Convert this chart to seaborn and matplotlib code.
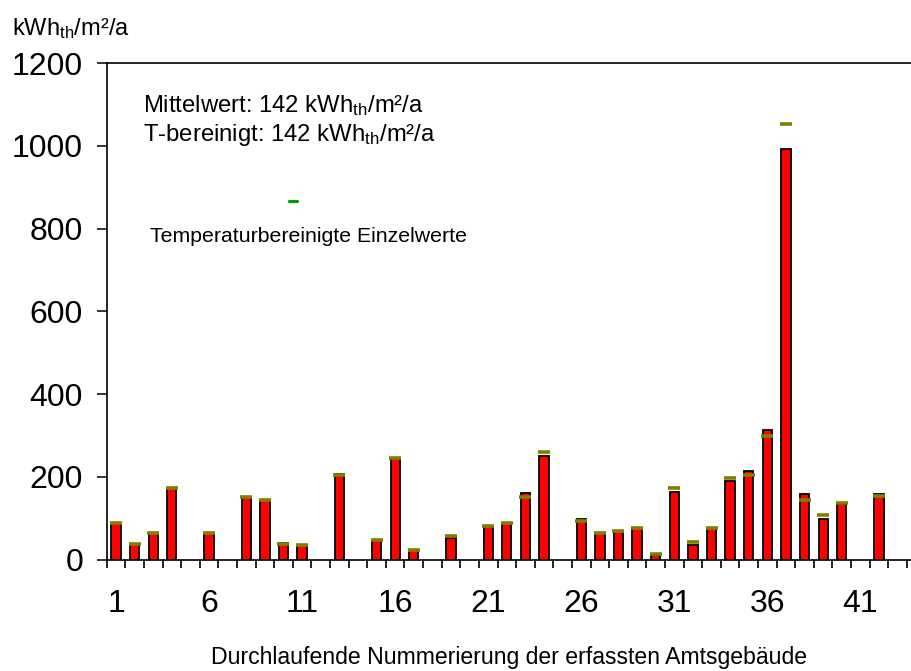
import matplotlib
matplotlib.use("Agg")
import matplotlib.pyplot as plt
import seaborn as sns
import pandas as pd
from matplotlib.lines import Line2D
from matplotlib.ticker import FixedLocator, NullFormatter

# ---------------- data ----------------
buildings = [1, 2, 3, 4, 6, 8, 9, 10, 11, 13, 15, 16, 17, 19, 21, 22, 23, 24,
             26, 27, 28, 29, 30, 31, 32, 33, 34, 35, 36, 37, 38, 39, 40, 42]
consumption = [88, 38, 64, 173, 64, 152, 143, 39, 36, 206, 46, 245, 23, 52, 82, 89, 160, 251,
               98, 65, 68, 76, 12, 164, 36, 75, 189, 215, 312, 993, 159, 98, 135, 159]
temp_adjusted = [88, 38, 64, 173, 64, 152, 143, 37, 34, 205, 46, 245, 24, 56, 81, 89, 150, 259,
                 93, 64, 68, 76, 14, 172, 42, 75, 198, 205, 299, 1052, 143, 107, 136, 154]
xtick_values = [1, 6, 11, 16, 21, 26, 31, 36, 41]
ytick_values = [0, 200, 400, 600, 800, 1000, 1200]
n_positions = 43

df = pd.DataFrame({"Gebäude": buildings, "Verbrauch": consumption, "Tbereinigt": temp_adjusted})

# ---------------- style ----------------
sns.set_theme(style="white")
plt.rcParams["font.family"] = ["Liberation Sans", "DejaVu Sans"]
plt.rcParams["mathtext.fontset"] = "custom"
plt.rcParams["mathtext.rm"] = "Liberation Sans"
plt.rcParams["mathtext.it"] = "Liberation Sans:italic"
plt.rcParams["text.color"] = "black"
plt.rcParams["axes.labelcolor"] = "black"
plt.rcParams["xtick.color"] = "black"
plt.rcParams["ytick.color"] = "black"

W, H = 912, 671
fig = plt.figure(figsize=(W / 100, H / 100), dpi=100)

def fx(x):
    return x / W

def fy(y):
    return 1 - y / H

ax_left, ax_right, ax_top, ax_bottom = 106.7, 912, 63.3, 559.5
ax = fig.add_axes([fx(ax_left), fy(ax_bottom), fx(ax_right - ax_left), (ax_bottom - ax_top) / H])

sns.barplot(data=df, x="Gebäude", y="Verbrauch", native_scale=True, width=0.5,
            color="#ff0000", edgecolor="black", linewidth=1.3, errorbar=None,
            saturation=1, ax=ax)
sns.scatterplot(data=df, x="Gebäude", y="Tbereinigt", marker="_", s=70,
                color="#808000", linewidth=2.6, zorder=3, ax=ax, legend=False)

ax.set_xlim(0.5, 0.5 + (ax_right - ax_left) / 18.61)
ax.set_ylim(0, 1200)

# ticks
ax.set_yticks(ytick_values)
ax.set_yticklabels([str(v) for v in ytick_values], fontsize=23)
ax.tick_params(axis="y", which="major", direction="out", length=7, width=1.1,
               color="black", labelcolor="black", pad=10, left=True)

ax.xaxis.set_major_locator(FixedLocator(xtick_values))
ax.set_xticklabels([str(v) for v in xtick_values], fontsize=23)
ax.xaxis.set_minor_locator(FixedLocator([i + 0.5 for i in range(0, n_positions + 2)]))
ax.xaxis.set_minor_formatter(NullFormatter())
ax.tick_params(axis="x", which="major", length=0, pad=21.5, bottom=True, labelcolor="black")
ax.tick_params(axis="x", which="minor", direction="out", length=6, width=1.2,
               color="black", bottom=True)

for side in ["left", "bottom", "top"]:
    ax.spines[side].set_visible(True)
    ax.spines[side].set_color("black")
    ax.spines[side].set_linewidth(1.2)
ax.spines["right"].set_visible(False)
ax.grid(False)

ax.set_xlabel("Durchlaufende Nummerierung der erfassten Amtsgebäude", fontsize=16.6,
              color="black")
ax.xaxis.label.set_va("baseline")
ax.xaxis.set_label_coords(0.5, (ax_bottom - 664) / (ax_bottom - ax_top))
ax.set_ylabel("")

# texts
fig.text(fx(12), fy(35), r"kWh$_{\mathrm{th}}$/m²/a", fontsize=17, va="baseline", ha="left",
         color="black")
fig.text(fx(143), fy(112), r"Mittelwert: 142 kWh$_{\mathrm{th}}$/m²/a", fontsize=17.2,
         va="baseline", ha="left", color="black")
fig.text(fx(143), fy(141), r"T-bereinigt: 142 kWh$_{\mathrm{th}}$/m²/a", fontsize=17.2,
         va="baseline", ha="left", color="black")
fig.text(fx(150), fy(242), "Temperaturbereinigte Einzelwerte", fontsize=15.3,
         va="baseline", ha="left", color="black")
fig.add_artist(Line2D([fx(289.5), fx(296.5)], [fy(200.7), fy(200.7)],
                      transform=fig.transFigure, color="#00a000", linewidth=2.3))

fig.savefig("out.png", dpi=100)
